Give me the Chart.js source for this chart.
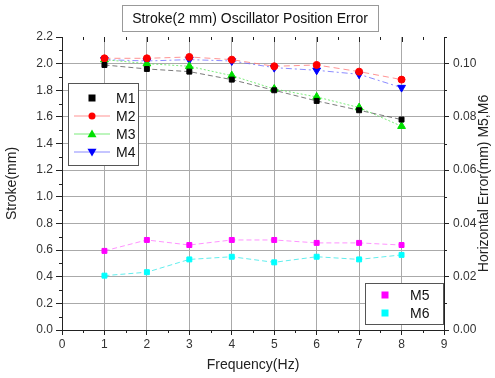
<!DOCTYPE html>
<html>
<head>
<meta charset="utf-8">
<script src="https://cdn.jsdelivr.net/npm/chart.js@4.4.1/dist/chart.umd.min.js"></script>
<style>
  html, body { margin: 0; padding: 0; background: #fff; }
  #wrap { width: 495px; height: 378px; position: relative; }
</style>
</head>
<body>
<div id="wrap"><canvas id="chart"></canvas></div>
<script>
// frequency values (Hz)
var freq = [1, 2, 3, 4, 5, 6, 7, 8];

// stroke (mm), left axis
var m1 = [1.99, 1.96, 1.94, 1.88, 1.80, 1.72, 1.65, 1.58];
var m2 = [2.04, 2.04, 2.05, 2.03, 1.98, 1.99, 1.94, 1.88];
var m3 = [2.03, 2.00, 1.98, 1.91, 1.81, 1.75, 1.67, 1.53];
var m4 = [2.03, 2.02, 2.03, 2.02, 1.97, 1.95, 1.92, 1.82];

// horizontal error (mm), right axis
var m5 = [0.0297, 0.0338, 0.0319, 0.0338, 0.0338, 0.0327, 0.0327, 0.0319];
var m6 = [0.0204, 0.0217, 0.0265, 0.0275, 0.0254, 0.0275, 0.0265, 0.0282];

var leftTicks = [0, 0.2, 0.4, 0.6, 0.8, 1.0, 1.2, 1.4, 1.6, 1.8, 2.0, 2.2];
var rightTicks = [0, 0.02, 0.04, 0.06, 0.08, 0.10];

function pts(ys) {
  return freq.map(function (x, i) { return { x: x, y: ys[i] }; });
}

var FONT = "'Liberation Sans', Arial, sans-serif";

function ds(label, ys, color, lineColor, dash, shape, rot, axis) {
  return {
    label: label,
    data: pts(ys),
    yAxisID: axis,
    borderColor: lineColor,
    borderWidth: 1,
    borderDash: dash,
    backgroundColor: color,
    pointBackgroundColor: color,
    pointBorderColor: color,
    pointStyle: shape,
    pointRotation: rot,
    pointRadius: shape === 'triangle' ? 4.5 : 3.5,
    tension: 0
  };
}

var datasets = [
  ds('M1', m1, '#000000', 'rgba(90,90,90,0.8)', [5, 3], 'rect', 0, 'y'),
  ds('M2', m2, '#ff0000', 'rgba(255,120,120,0.8)', [6, 4], 'circle', 0, 'y'),
  ds('M3', m3, '#00e000', 'rgba(90,230,90,0.8)', [2, 2], 'triangle', 0, 'y'),
  ds('M4', m4, '#0000ff', 'rgba(110,110,255,0.8)', [6, 3, 2, 3], 'triangle', 180, 'y'),
  ds('M5', m5, '#ff00ff', 'rgba(255,120,255,0.8)', [5, 3], 'rect', 0, 'y2'),
  ds('M6', m6, '#00ffff', 'rgba(80,235,235,0.9)', [5, 3], 'rect', 0, 'y2')
];

function drawMarker(c, d, x, y) {
  c.save();
  c.fillStyle = d.pointBackgroundColor;
  var r = d.pointRadius;
  if (d.pointStyle === 'rect') {
    c.fillRect(x - r, y - r, 2 * r, 2 * r);
  } else if (d.pointStyle === 'circle') {
    c.beginPath(); c.arc(x, y, r, 0, Math.PI * 2); c.fill();
  } else {
    var s = d.pointRotation === 180 ? -1 : 1;
    c.beginPath();
    c.moveTo(x, y - s * r);
    c.lineTo(x + r, y + s * r * 0.7);
    c.lineTo(x - r, y + s * r * 0.7);
    c.closePath(); c.fill();
  }
  c.restore();
}

function drawLegend(c, chart, idx, box, withLine) {
  c.save();
  c.fillStyle = '#fff';
  c.fillRect(box.x, box.y, box.w, box.h);
  c.strokeStyle = '#555';
  c.lineWidth = 1;
  c.strokeRect(box.x + 0.5, box.y + 0.5, box.w, box.h);
  c.font = '14px ' + FONT;
  c.textBaseline = 'middle';
  idx.forEach(function (k, i) {
    var d = chart.data.datasets[k];
    var y = box.y + box.first + i * box.step;
    if (withLine && k !== 0) {
      c.strokeStyle = d.borderColor;
      c.beginPath(); c.moveTo(box.x + 6, y); c.lineTo(box.x + 42, y); c.stroke();
    }
    drawMarker(c, d, box.x + box.mx, y);
    c.fillStyle = '#111';
    c.fillText(d.label, box.x + box.tx, y + 1);
  });
  c.restore();
}

// small minor tick marks between the labelled ones
function minorTicks(c, scale, from, to, step, x0, dir, vertical) {
  for (var v = from; v <= to + 1e-9; v += step) {
    var p = Math.round(scale.getPixelForValue(v)) + 0.5;
    c.beginPath();
    if (vertical) { c.moveTo(x0, p); c.lineTo(x0 + dir * 3, p); }
    else { c.moveTo(p, x0); c.lineTo(p, x0 + dir * 3); }
    c.stroke();
  }
}

var overlay = {
  id: 'overlay',
  afterDraw: function (chart) {
    var c = chart.ctx;
    var a = chart.chartArea;
    c.save();
    c.strokeStyle = '#222';
    c.lineWidth = 1;
    // inward ticks along the top edge
    var xs = chart.scales.x;
    for (var v = 0; v <= 9; v += 0.5) {
      var px = Math.round(xs.getPixelForValue(v)) + 0.5;
      c.beginPath(); c.moveTo(px, a.top); c.lineTo(px, a.top + (v % 1 === 0 ? 5 : 3)); c.stroke();
    }
    minorTicks(c, xs, 0.5, 8.5, 1, a.bottom, 1, false);
    minorTicks(c, chart.scales.y, 0.1, 2.1, 0.2, a.left, -1, true);
    minorTicks(c, chart.scales.y2, 0.01, 0.11, 0.02, a.right, 1, true);
    c.restore();

    // right axis title, reading bottom to top
    c.save();
    c.translate(484, (a.top + a.bottom) / 2);
    c.rotate(-Math.PI / 2);
    c.fillStyle = '#222';
    c.font = '14px ' + FONT;
    c.textAlign = 'center';
    c.textBaseline = 'middle';
    c.fillText('Horizontal Error(mm) M5,M6', 0, 0);
    c.restore();

    // title box
    c.save();
    c.fillStyle = '#fff';
    c.fillRect(122, 5, 256, 26);
    c.strokeStyle = '#999';
    c.strokeRect(122.5, 5.5, 256, 26);
    c.fillStyle = '#111';
    c.font = '14px ' + FONT;
    c.textAlign = 'center';
    c.textBaseline = 'middle';
    c.fillText('Stroke(2 mm) Oscillator Position Error', 250, 19);
    c.restore();

    drawLegend(c, chart, [0, 1, 2, 3], { x: 68, y: 83, w: 70, h: 82, first: 15, step: 18, mx: 24, tx: 48 }, true);
    drawLegend(c, chart, [4, 5], { x: 365, y: 283, w: 78, h: 41, first: 12, step: 18, mx: 20, tx: 45 }, false);
  }
};

new Chart(document.getElementById('chart'), {
  type: 'line',
  data: { datasets: datasets },
  plugins: [overlay],
  options: {
    responsive: true,
    maintainAspectRatio: false,
    animation: false,
    layout: { padding: { top: 37, left: 0, right: 0, bottom: 0 } },
    plugins: {
      legend: { display: false },
      title: { display: false },
      tooltip: { enabled: false }
    },
    scales: {
      x: {
        type: 'linear',
        min: 0,
        max: 9,
        ticks: { stepSize: 1, color: '#333', font: { family: FONT, size: 12 }, padding: 2 },
        grid: { color: function (ctx) { return ctx.tick && ctx.tick.value > 0 && ctx.tick.value < 9 ? '#aaa' : 'rgba(0,0,0,0)'; }, tickColor: '#222', tickLength: 5 },
        border: { color: '#222', width: 1 },
        title: { display: true, text: 'Frequency(Hz)', color: '#222', font: { family: FONT, size: 14 }, padding: { top: 4 } },
        afterFit: function (s) { s.height = 48; }
      },
      y: {
        type: 'linear',
        position: 'left',
        min: 0,
        max: 2.2,
        afterBuildTicks: function (s) { s.ticks = leftTicks.map(function (v) { return { value: v }; }); },
        ticks: { color: '#333', font: { family: FONT, size: 12 }, padding: 3,
          callback: function (v) { return v.toFixed(1); } },
        grid: { color: function (ctx) { return ctx.tick && ctx.tick.value > 0 && ctx.tick.value < 2.2 ? '#aaa' : 'rgba(0,0,0,0)'; }, tickColor: '#222', tickLength: 6 },
        border: { color: '#222', width: 1 },
        title: { display: true, text: 'Stroke(mm)', color: '#222', font: { family: FONT, size: 14 }, padding: { bottom: 2 } },
        afterFit: function (s) { s.width = 62; }
      },
      y2: {
        type: 'linear',
        position: 'right',
        min: 0,
        max: 0.11,
        afterBuildTicks: function (s) { s.ticks = rightTicks.map(function (v) { return { value: v }; }); },
        ticks: { color: '#333', font: { family: FONT, size: 12 }, padding: 4,
          callback: function (v) { return v.toFixed(2); } },
        grid: { drawOnChartArea: false, tickColor: '#222', tickLength: 5 },
        border: { color: '#222', width: 1 },
        title: { display: false },
        afterFit: function (s) { s.width = 51; }
      }
    }
  }
});
</script>
</body>
</html>
